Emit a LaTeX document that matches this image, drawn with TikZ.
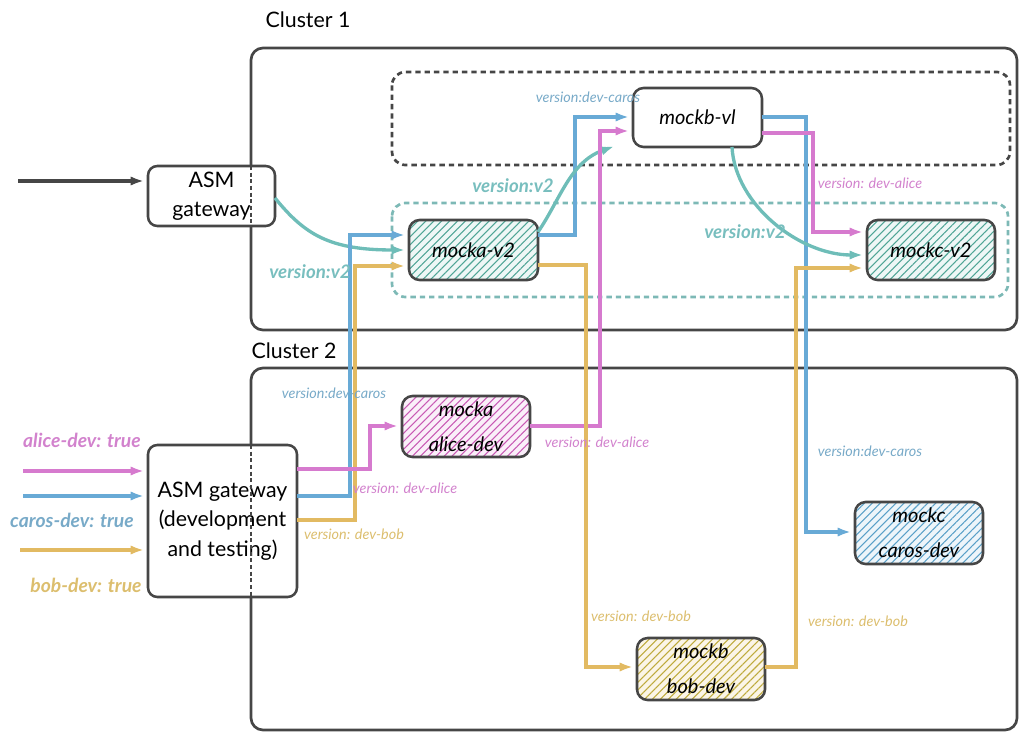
\documentclass[tikz,border=0pt]{standalone}
\usepackage{fontspec}
\setmainfont{Lato}
\usetikzlibrary{arrows.meta,patterns.meta,calc}
\definecolor{dk}{RGB}{70,70,70}
\definecolor{tealc}{RGB}{110,189,184}
\definecolor{bluec}{RGB}{104,170,214}
\definecolor{pinkc}{RGB}{214,122,206}
\definecolor{yelc}{RGB}{226,186,98}
\definecolor{tealt}{RGB}{120,190,190}
\definecolor{bluet}{RGB}{120,170,200}
\definecolor{pinkt}{RGB}{210,130,205}
\definecolor{yelt}{RGB}{220,190,110}
\definecolor{tealdash}{RGB}{125,185,182}
\definecolor{tealh}{RGB}{80,165,150}
\definecolor{pinkh}{RGB}{200,90,180}
\definecolor{blueh}{RGB}{90,160,200}
\definecolor{yelh}{RGB}{190,170,60}
\begin{document}
\begin{tikzpicture}[x=0.75pt,y=-0.75pt,
  cluster/.style={draw=dk,line width=2pt,rounded corners=9pt},
  svc/.style={draw=dk,line width=1.9pt,rounded corners=8pt,inner sep=0pt,outer sep=0pt,
    align=center,font=\fontsize{15}{26}\selectfont\itshape},
  gate/.style={draw=dk,line width=1.9pt,rounded corners=7pt,fill=white,inner sep=0pt,outer sep=0pt,
    align=center,font=\fontsize{16}{22}\selectfont},
  hatchT/.style={preaction={fill=tealc!12},pattern={Lines[angle=45,distance=4.2pt,line width=0.8pt]},pattern color=tealh},
  hatchP/.style={preaction={fill=pinkc!12},pattern={Lines[angle=45,distance=4.2pt,line width=0.8pt]},pattern color=pinkh},
  hatchB/.style={preaction={fill=bluec!12},pattern={Lines[angle=45,distance=4.2pt,line width=0.8pt]},pattern color=blueh},
  hatchY/.style={preaction={fill=yelc!15},pattern={Lines[angle=45,distance=4.2pt,line width=0.8pt]},pattern color=yelh},
  conn/.style={line width=2.5pt,-{Latex[length=10pt,width=7pt]},shorten >=3pt},
  lbl/.style={font=\fontsize{10.8}{12}\selectfont\itshape},
  lblv/.style={font=\fontsize{14}{16}\selectfont\itshape\bfseries,text=tealt},
  inlbl/.style={font=\fontsize{14.5}{16}\selectfont\itshape\bfseries},
  ctitle/.style={font=\fontsize{16}{18}\selectfont}
]
\useasboundingbox (0,0) rectangle (1024,734);

% clusters
\draw[cluster] (251,48) rectangle (1017,330);
\draw[cluster] (251,368) rectangle (1017,730);
\node[ctitle] (c1t) at (308,20) {Cluster 1};
\node[ctitle] (c2t) at (294,351) {Cluster 2};

% dashed groups
\draw[draw=dk,line width=2pt,dash pattern=on 4pt off 3pt,rounded corners=10pt] (392,72) rectangle (1010,165);
\draw[draw=tealdash,line width=2pt,dash pattern=on 4pt off 3pt,rounded corners=10pt] (392,203) rectangle (1008,297);

% gateways
\node[gate,minimum width=95.25pt,minimum height=45pt] (gw1) at (211.5,196) {ASM\\gateway};
\node[gate,minimum width=111.75pt,minimum height=114pt] (gw2) at (222.5,521) {ASM gateway\\(development\\and testing)};
\draw[dk,line width=1.2pt,dash pattern=on 3pt off 2pt] (gw1.north -| 251,0) -- (gw1.south -| 251,0);
\draw[dk,line width=1.2pt,dash pattern=on 3pt off 2pt] (gw2.north -| 251,0) -- (gw2.south -| 251,0);

% services
\node[svc,hatchT,minimum width=96.75pt,minimum height=45pt] (mockav2) at (473.5,250) {mocka-v2};
\node[svc,fill=white,minimum width=96.75pt,minimum height=44.25pt] (mockbv1) at (697.5,117.5) {mockb-vl};
\node[svc,hatchT,minimum width=96pt,minimum height=45pt] (mockcv2) at (931,250) {mockc-v2};
\node[svc,hatchP,minimum width=96pt,minimum height=45.75pt] (mockaalice) at (466,426.5) {mocka\\alice-dev};
\node[svc,hatchB,minimum width=96pt,minimum height=46.5pt] (mockccaros) at (919,533) {mockc\\caros-dev};
\node[svc,hatchY,minimum width=96pt,minimum height=46.5pt] (mockbbob) at (701,669) {mockb\\bob-dev};

% inputs
\coordinate (in0) at (18,181);
\coordinate (inp) at (23,471);
\coordinate (inb) at (23,496);
\coordinate (iny) at (20,550);
\draw[conn,dk] (in0) -- (gw1.west |- in0);
\draw[conn,pinkc] (inp) -- (gw2.west |- inp);
\draw[conn,bluec] (inb) -- (gw2.west |- inb);
\draw[conn,yelc] (iny) -- (gw2.west |- iny);
\node[inlbl,text=pinkt] (la) at (82,440) {alice-dev: true};
\node[inlbl,text=bluet] (lc) at (72,520) {caros-dev: true};
\node[inlbl,text=yelt] (lb) at (86,585) {bob-dev: true};

% gateway -> mocka
\draw[conn,tealc] (gw1.east |- 0,198) .. controls (305,235) and (330,250) .. (mockav2.west |- 0,250);
\draw[conn,bluec] (gw2.east |- 0,496) -| (350,235) -- (mockav2.west |- 0,235);
\draw[conn,yelc] (gw2.east |- 0,520) -| (355,266) -- (mockav2.west |- 0,266);
\draw[conn,pinkc] (gw2.east |- 0,469) -| (370,426) -- (mockaalice.west |- 0,426);

% mocka -> mockb
\draw[conn,bluec] (mockav2.east |- 0,235) -| (575,117) -- (mockbv1.west |- 0,117);
\draw[conn,tealc] (mockav2.east |- 0,232) .. controls (560,200) and (570,162) .. (618,145);
\draw[conn,pinkc] (mockaalice.east |- 0,426) -| (600,131) -- (mockbv1.west |- 0,131);
\draw[conn,yelc] (mockav2.east |- 0,265) -| (586,667) -- (mockbbob.west |- 0,667);

% mockb -> mockc
\draw[conn,bluec] (mockbv1.east |- 0,117) -| (806,532) -- (mockccaros.west |- 0,532);
\draw[conn,pinkc] (mockbv1.east |- 0,133) -| (813,232) -- (mockcv2.west |- 0,232);
\draw[conn,tealc] (mockbv1.south -| 732,0) .. controls (735,205) and (800,255) .. (mockcv2.west |- 0,255);
\draw[conn,yelc] (mockbbob.east |- 0,667) -| (796,268) -- (mockcv2.west |- 0,268);

% labels
\node[lblv] (v1) at (310,272) {version:v2};
\node[lblv] (v2) at (513,186) {version:v2};
\node[lblv] (v3) at (745,232) {version:v2};
\node[lbl,text=bluet] (l1) at (334,393) {version:dev-caros};
\node[lbl,text=pinkt] (l2) at (405,488) {version: dev-alice};
\node[lbl,text=yelt] (l3) at (354,534) {version: dev-bob};
\node[lbl,text=bluet] (l4) at (588,97) {version:dev-caros};
\node[lbl,text=pinkt] (l5) at (870,183) {version: dev-alice};
\node[lbl,text=pinkt] (l6) at (597,442) {version: dev-alice};
\node[lbl,text=bluet] (l7) at (870,451) {version:dev-caros};
\node[lbl,text=yelt] (l8) at (641,616) {version: dev-bob};
\node[lbl,text=yelt] (l9) at (858,621) {version: dev-bob};
\end{tikzpicture}
\end{document}
